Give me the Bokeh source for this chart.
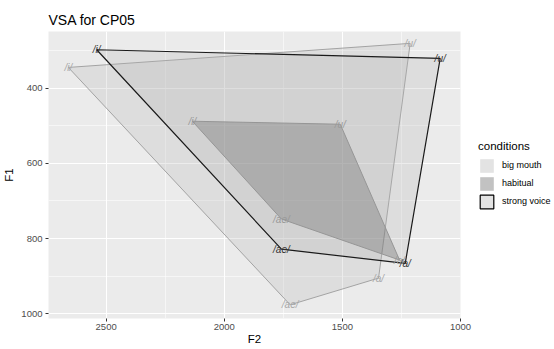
from bokeh.plotting import figure
from bokeh.models import Range1d, FixedTicker, Legend, LegendItem
from bokeh.core.properties import value
from bokeh.embed import file_html
from bokeh.resources import INLINE

# ---- data ----
vowels = ["/i/", "/u/", "/a/", "/ae/"]
conditions = ["big mouth", "habitual", "strong voice"]

f2_big = [2660, 1213, 1347, 1721]
f1_big = [345, 281, 905, 976]

f2_hab = [2135, 1509, 1258, 1758]
f1_hab = [488, 496, 857, 748]

f2_str = [2540, 1086, 1234, 1758]
f1_str = [298, 321, 866, 828]

x_ticks = [2500, 2000, 1500, 1000]
x_minor = [2250, 1750, 1250]
y_ticks = [400, 600, 800, 1000]
y_minor = [300, 500, 700, 900]

FONT = "Liberation Sans"

p = figure(frame_width=412, frame_height=287,
           x_range=Range1d(2744, 1000), y_range=Range1d(1012.4, 249.5),
           output_backend="svg", toolbar_location=None,
           min_border_left=42, min_border_top=31, min_border_bottom=10,
           min_border_right=0, title="VSA for CP05")

p.background_fill_color = "#EBEBEB"
p.border_fill_color = "white"
p.outline_line_color = None

p.title.text_font = FONT
p.title.text_font_size = "14px"
p.title.text_font_style = "normal"
p.title.text_color = "black"
p.title.standoff = 7

p.xaxis.ticker = FixedTicker(ticks=x_ticks, minor_ticks=x_minor)
p.yaxis.ticker = FixedTicker(ticks=y_ticks, minor_ticks=y_minor)
for g in (p.xgrid, p.ygrid):
    g.grid_line_color = "white"
    g.grid_line_width = 1.1
    g.minor_grid_line_color = "white"
    g.minor_grid_line_width = 0.55

for ax in (p.xaxis, p.yaxis):
    ax.axis_line_color = None
    ax.major_tick_line_color = "#333333"
    ax.major_tick_in = 0
    ax.major_tick_out = 3
    ax.minor_tick_line_color = None
    ax.major_label_text_font = FONT
    ax.major_label_text_font_size = "9.5px"
    ax.major_label_text_color = "#4D4D4D"
    ax.major_label_standoff = 1
    ax.axis_label_text_font = FONT
    ax.axis_label_text_font_size = "11.5px"
    ax.axis_label_text_font_style = "normal"
    ax.axis_label_text_color = "black"
    ax.axis_label_standoff = 0
p.yaxis.major_label_standoff = 2
p.yaxis.axis_label_standoff = 3
p.xaxis.axis_label = "F2"
p.yaxis.axis_label = "F1"

# polygons
p.patch(f2_big, f1_big, fill_color="#B3B3B3", fill_alpha=0.25,
        line_color="#A3A3A3", line_width=1.0)
p.patch(f2_hab, f1_hab, fill_color="#4D4D4D", fill_alpha=0.35,
        line_color="#8C8C8C", line_width=1.0)
p.patch(f2_str, f1_str, fill_color="#B3B3B3", fill_alpha=0.25,
        line_color="#1A1A1A", line_width=1.2)

# vowel labels
lbl = dict(text_font=value(FONT), text_font_size="10px", text_font_style="italic",
           text_align="center", text_baseline="middle")
p.text(x=f2_big, y=f1_big, text=vowels, text_color="#A8A8A8", **lbl)
p.text(x=f2_hab, y=f1_hab, text=vowels, text_color="#999999", **lbl)
p.text(x=f2_str, y=f1_str, text=vowels, text_color="#333333", **lbl)

# legend keys (hidden renderers carrying the key styles)
r1 = p.patch(f2_big, f1_big, fill_color="#E3E3E3", line_color=None, visible=False)
r2 = p.patch(f2_hab, f1_hab, fill_color="#C2C2C2", line_color=None, visible=False)
r3 = p.patch(f2_str, f1_str, fill_color="#E3E3E3", line_color="black",
             line_width=1.2, visible=False)
legend = Legend(items=[LegendItem(label=conditions[0], renderers=[r1]),
                       LegendItem(label=conditions[1], renderers=[r2]),
                       LegendItem(label=conditions[2], renderers=[r3])],
                title="conditions", location="left", margin=18, padding=0,
                spacing=1, glyph_width=17, glyph_height=17, label_standoff=7,
                label_height=17, label_text_font=FONT, label_text_font_size="9px",
                label_text_color="black",
                title_text_font=FONT, title_text_font_size="11.5px",
                title_text_font_style="normal", title_text_color="black",
                title_standoff=5, click_policy="none",
                border_line_color=None, background_fill_alpha=0)
p.add_layout(legend, "right")

open("out.html", "w").write(file_html(p, INLINE))
